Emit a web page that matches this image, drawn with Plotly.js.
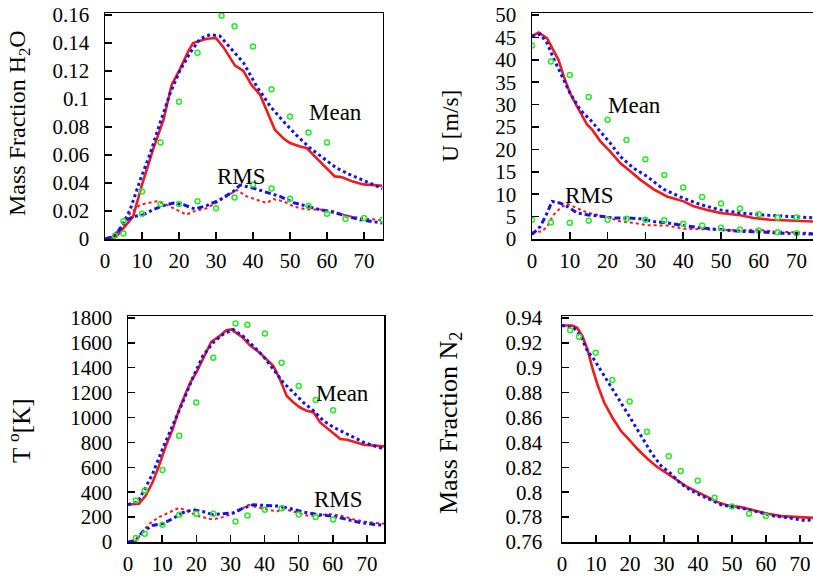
<!DOCTYPE html>
<html>
<head>
<meta charset="utf-8">
<script src="https://cdn.plot.ly/plotly-3.0.1.min.js"></script>
<style>
html,body{margin:0;padding:0;overflow:hidden;background:#fff;}
#chart{width:820px;height:579px;}
</style>
</head>
<body>
<div id="chart"></div>
<script>
// ---------- Panel 1: Mass fraction H2O ----------
const h2oMeanLesX = [0,3.2,7.6,9.9,13,15.8,18,20.2,22.5,23.8,27.5,30,32,35.1,37.4,39.6,41.9,43.7,45.9,48.2,50,52.7,54.5,56.7,59.4,62.1,63.9,67,69.8,75];
const h2oMeanLesY = [0,0.002,0.016,0.038,0.064,0.085,0.110,0.121,0.134,0.140,0.143,0.1435,0.137,0.124,0.120,0.110,0.103,0.092,0.078,0.072,0.0685,0.066,0.065,0.059,0.052,0.0447,0.0442,0.041,0.039,0.038];
const h2oMeanModX = [0,2.2,4.5,6.8,9.5,12.2,14.9,17.6,20.2,23,25.7,28.4,31,33.8,37.4,41,44.6,48.2,51.8,55.4,59,62.6,66.2,69.8,75];
const h2oMeanModY = [0,0.0014,0.009,0.021,0.042,0.061,0.083,0.104,0.120,0.133,0.143,0.146,0.145,0.137,0.126,0.109,0.095,0.084,0.074,0.065,0.058,0.0506,0.046,0.042,0.036];
const h2oMeanExpX = [2.7,5,10,15,20,25,31.5,35,40,45,50,55,60];
const h2oMeanExpY = [0.0024,0.004,0.034,0.069,0.098,0.133,0.1595,0.152,0.1375,0.107,0.0875,0.076,0.069];
const h2oRmsLesX = [0,2.2,5,6.8,9.5,12.2,14,16.6,19.4,22,23.9,27.5,30,32.9,35.6,38.3,41,43.7,45.5,48.2,50.9,54.5,58,61.7,65.3,68.9,75];
const h2oRmsLesY = [0,0.001,0.009,0.0185,0.0245,0.026,0.027,0.0245,0.021,0.0174,0.0197,0.022,0.0257,0.0304,0.035,0.0304,0.028,0.0257,0.0285,0.027,0.0233,0.021,0.021,0.020,0.0166,0.015,0.0133];
const h2oRmsModX = [0,2.2,4,5.9,7.7,10.4,13,15.8,18.5,21.2,24.3,27.5,31,34.7,36.5,40,43.7,47.3,50.9,54.5,58,61.7,65.3,68.9,75];
const h2oRmsModY = [0,0.0019,0.0067,0.0138,0.016,0.0174,0.021,0.0238,0.0257,0.0245,0.0214,0.0238,0.028,0.034,0.0385,0.0364,0.0333,0.0304,0.026,0.0233,0.021,0.019,0.0166,0.0138,0.0114];
const h2oRmsExpX = [5,10,15,20,25,30,35,40,45,50,55,60,65,70,75];
const h2oRmsExpY = [0.0126,0.018,0.025,0.025,0.027,0.022,0.0297,0.039,0.036,0.0288,0.0235,0.018,0.0145,0.015,0.0138];

// ---------- Panel 2: axial velocity U ----------
const uMeanLesX = [0,1.8,4,5.7,7,8.4,10.1,11.9,14.6,15.9,18.1,20.7,23.4,26,28.7,32.2,35.7,40.1,42.8,46.3,49.8,55.1,58.6,63,67.5,75];
const uMeanLesY = [45.3,46.1,44.8,42.2,40,36.3,32.5,29.6,25.5,24.4,21.8,19.5,16.9,15.1,13.2,11.1,9.5,8.4,7.3,6.5,5.8,5.3,4.7,4.3,4.2,3.9];
const uMeanModX = [0,2.2,4,5.7,10.1,12.8,15.4,18.1,20.7,23.4,26.9,30.4,34.8,40.1,44.5,49.8,55.1,60.4,65.7,75];
const uMeanModY = [45.3,45.7,43.7,40.3,32.5,28.8,26.6,24,21.4,18.4,15.8,14,11.1,9.1,7.7,6.5,5.8,5.4,5.1,4.7];
const uMeanExpX = [0,5,10,15,20,25,30,35,40,45,50,55,60,65,70];
const uMeanExpY = [43.2,39.6,36.6,31.7,26.6,22.1,17.8,14.3,11.5,9.4,7.9,6.8,5.5,4.8,4.8];
const uRmsLesX = [0,2.6,4,5.7,7.5,9.3,11.9,14.6,17.2,19.8,23.4,26.9,30.4,35.7,40.1,45.4,49.8,55.1,59.5,63.9,75];
const uRmsLesY = [1.5,1.7,2.8,5.4,6.9,7.9,6.9,5.9,5.4,4.9,3.9,3.6,3.1,3.0,2.3,2.1,2.1,1.9,2.1,1.7,1.3];
const uRmsModX = [0,2.2,4,5.3,7.5,9.7,11.9,14.6,18.1,21.6,25.1,28.7,32.2,35.7,40.1,44.5,49.8,55.1,60.4,65.7,75];
const uRmsModY = [1.0,2.8,5.8,8.4,8.0,7.1,5.8,5.4,5.1,4.7,4.7,4.5,3.9,3.6,3.0,2.5,2.1,1.7,1.6,1.3,1.1];
const uRmsExpX = [0,5,10,15,20,25,30,35,40,45,50,55,60,65,70];
const uRmsExpY = [4.3,3.7,3.6,4.1,4.3,4.5,4.3,4.2,3.4,3.0,2.5,2.1,1.9,1.5,1.3];

// ---------- Panel 3: temperature T ----------
const tMeanLesX = [0,3.2,5.2,7.2,9.1,11.1,13.1,15,17,18.5,20,21.4,22.9,24.4,26.8,28.8,30.3,31.8,33.7,35.7,38.6,40.6,42.6,44.5,46.5,48.5,50.4,52.4,54.4,56.3,59.3,62.2,64.2,67.2,69.1,75];
const tMeanLesY = [301,307,373,480,613,773,907,1067,1200,1293,1360,1440,1533,1608,1653,1701,1707,1680,1640,1579,1520,1467,1413,1307,1173,1120,1080,1053,1040,960,893,827,821,800,781,768];
const tMeanModX = [0,2.8,5.2,7.2,10.1,13.1,16,19,21.9,24.9,27.8,30.8,33.7,36.7,39.6,42.6,45.5,48.5,51.4,54.4,57.3,60.3,63.2,66.2,69.1,75];
const tMeanModY = [301,320,440,547,747,933,1120,1320,1493,1600,1667,1707,1653,1573,1493,1387,1280,1200,1120,1053,973,920,880,840,800,747];
const tMeanExpX = [2.3,4.9,10.1,15,20,25,31.5,35,40.1,45,50,55,60.1];
const tMeanExpY = [333,413,579,853,1120,1480,1755,1744,1675,1440,1253,1141,1059];
const tRmsLesX = [0,2.3,4.2,6.2,9.1,12.1,15,17,20,22.9,24.9,27.8,30.8,32.7,35.2,37.7,40.6,43.6,45.5,48.5,52.4,56.3,58.3,62.2,66.2,70.1,75];
const tRmsLesY = [0,5,80,147,200,240,275,253,213,192,181,200,227,253,299,280,261,245,267,245,213,208,227,213,181,160,147];
const tRmsModX = [0,2.3,4.2,7.2,10.1,13.1,16,19,21.9,24.9,27.8,30.8,33.7,36.7,40.6,44.5,48.5,52.4,56.3,60.3,64.2,68.1,75];
const tRmsModY = [0,13,80,133,147,187,235,259,245,219,227,235,272,299,293,288,261,235,219,205,181,155,133];
const tRmsExpX = [2.3,4.9,10.1,15,20,25,31.5,35,40.1,45,50,55,60.1];
const tRmsExpY = [32,67,139,219,227,227,165,213,259,272,221,200,181];

// ---------- Panel 4: Mass fraction N2 ----------
const n2MeanLesX = [0,3,4.5,6,7.5,8.9,10.4,12.4,14.8,17.3,19.8,22.2,25.2,28.1,31.1,34,37,39.9,42.9,45.8,48.8,52.7,56.6,60.6,64.5,68.4,75];
const n2MeanLesY = [0.9339,0.9339,0.932,0.9253,0.9147,0.900,0.8867,0.872,0.860,0.8493,0.8421,0.8347,0.8267,0.820,0.8147,0.8093,0.804,0.800,0.796,0.792,0.7893,0.788,0.7853,0.7827,0.7808,0.780,0.7792];
const n2MeanModX = [0,3.5,5.5,7.5,9.4,11.9,14.4,17.3,20.3,23.2,26.2,29.1,32.1,35,38,40.9,43.9,46.8,50.7,54.7,58.6,62.5,66.5,71.4,75];
const n2MeanModY = [0.9339,0.932,0.9253,0.9133,0.9067,0.896,0.8853,0.872,0.8587,0.8453,0.832,0.8213,0.8147,0.8067,0.8013,0.7973,0.7933,0.7899,0.788,0.7861,0.7835,0.7808,0.7795,0.7773,0.7781];
const n2MeanExpX = [2.4,5,9.9,14.8,19.9,25,31.4,34.9,39.9,44.9,50,55,60];
const n2MeanExpY = [0.9301,0.9248,0.912,0.8901,0.8728,0.8485,0.8288,0.8171,0.8091,0.7955,0.7885,0.7827,0.7808];

// ---------- styles ----------
const RED = '#ee1c1c', BLUE = '#1414e6', GREEN = '#2ee62e';
const FONT = 'Liberation Serif';

function lesMean(x, y, xa, ya){ return {x, y, xaxis:xa, yaxis:ya, type:'scatter', mode:'lines', line:{color:RED, width:2.6}, showlegend:false, hoverinfo:'skip'}; }
function modMean(x, y, xa, ya){ return {x, y, xaxis:xa, yaxis:ya, type:'scatter', mode:'lines', line:{color:BLUE, width:3, dash:'dot'}, showlegend:false, hoverinfo:'skip'}; }
function lesRms(x, y, xa, ya){ return {x, y, xaxis:xa, yaxis:ya, type:'scatter', mode:'lines', line:{color:RED, width:2, dash:'dot'}, showlegend:false, hoverinfo:'skip'}; }
function modRms(x, y, xa, ya){ return {x, y, xaxis:xa, yaxis:ya, type:'scatter', mode:'lines', line:{color:BLUE, width:3, dash:'6px,3px,3px,3px'}, showlegend:false, hoverinfo:'skip'}; }
function exp(x, y, xa, ya){ return {x, y, xaxis:xa, yaxis:ya, type:'scatter', mode:'markers', marker:{symbol:'circle-open', size:5, color:GREEN, line:{width:1.5, color:GREEN}}, showlegend:false, hoverinfo:'skip'}; }

const data = [
  lesMean(h2oMeanLesX, h2oMeanLesY, 'x', 'y'),
  modMean(h2oMeanModX, h2oMeanModY, 'x', 'y'),
  lesRms(h2oRmsLesX, h2oRmsLesY, 'x', 'y'),
  modRms(h2oRmsModX, h2oRmsModY, 'x', 'y'),
  exp(h2oMeanExpX, h2oMeanExpY, 'x', 'y'),
  exp(h2oRmsExpX, h2oRmsExpY, 'x', 'y'),

  lesMean(uMeanLesX, uMeanLesY, 'x2', 'y2'),
  modMean(uMeanModX, uMeanModY, 'x2', 'y2'),
  lesRms(uRmsLesX, uRmsLesY, 'x2', 'y2'),
  modRms(uRmsModX, uRmsModY, 'x2', 'y2'),
  exp(uMeanExpX, uMeanExpY, 'x2', 'y2'),
  exp(uRmsExpX, uRmsExpY, 'x2', 'y2'),

  lesMean(tMeanLesX, tMeanLesY, 'x3', 'y3'),
  modMean(tMeanModX, tMeanModY, 'x3', 'y3'),
  lesRms(tRmsLesX, tRmsLesY, 'x3', 'y3'),
  modRms(tRmsModX, tRmsModY, 'x3', 'y3'),
  exp(tMeanExpX, tMeanExpY, 'x3', 'y3'),
  exp(tRmsExpX, tRmsExpY, 'x3', 'y3'),

  lesMean(n2MeanLesX, n2MeanLesY, 'x4', 'y4'),
  modMean(n2MeanModX, n2MeanModY, 'x4', 'y4'),
  exp(n2MeanExpX, n2MeanExpY, 'x4', 'y4')
];

const W = 820, H = 579;
function ax(extra){
  return Object.assign({
    showline:true, linecolor:'#000', linewidth:1.5, mirror:true,
    ticks:'inside', ticklen:7, tickwidth:1.5, tickcolor:'#000',
    showgrid:false, zeroline:false,
    tickfont:{family:FONT, size:21, color:'#000'}
  }, extra);
}
const xt = {range:[0,75], dtick:10, tick0:0, ticklabelstandoff:2};
const dx = (a,b)=>[a/W, b/W];
const dy = (top,bot)=>[(H-bot)/H, (H-top)/H];

const ann = (text, xref, yref, x, y, size) => ({text, xref, yref, x, y, showarrow:false, font:{family:FONT, size:size||23, color:'#000'}, xanchor:'center', yanchor:'middle'});
const ytitle = (text, px, py, size) => ({text, xref:'paper', yref:'paper', x:px/W, y:1-py/H, showarrow:false, textangle:-90, font:{family:FONT, size:size, color:'#000'}, xanchor:'center', yanchor:'middle'});

const layout = {
  width:W, height:H,
  margin:{l:0, r:0, t:0, b:0},
  font:{family:FONT, size:21, color:'#000'},
  paper_bgcolor:'#fff', plot_bgcolor:'#fff',
  showlegend:false,
  xaxis:  ax(Object.assign({domain:dx(105,382.5), anchor:'y'}, xt)),
  yaxis:  ax({domain:dy(13,239), anchor:'x', range:[0,0.1614], dtick:0.02, ticklabelstandoff:10}),
  xaxis2: ax(Object.assign({domain:dx(532,815.5), anchor:'y2'}, xt)),
  yaxis2: ax({domain:dy(13,239), anchor:'x2', range:[0,50.45], dtick:5, ticklabelstandoff:10}),
  xaxis3: ax(Object.assign({domain:dx(128,384), anchor:'y3'}, xt)),
  yaxis3: ax({domain:dy(316,542), anchor:'x3', range:[0,1815], dtick:200, ticklabelstandoff:10}),
  xaxis4: ax(Object.assign({domain:dx(562,817), anchor:'y4'}, xt)),
  yaxis4: ax({domain:dy(316,542), anchor:'x4', range:[0.76,0.9415], dtick:0.02, ticklabelstandoff:14}),
  annotations:[
    ann('Mean','x','y',62.4,0.0907),
    ann('RMS','x','y',37,0.0443),
    ann('Mean','x2','y2',27.2,29.9),
    ann('RMS','x2','y2',15.1,9.8),
    ann('Mean','x3','y3',62.7,1190),
    ann('RMS','x3','y3',61.8,342),
    ytitle('Mass Fraction H<sub>2</sub>O', 19, 123, 24),
    ytitle('U [m/s]', 450, 126, 23.5),
    ytitle('T <sup>o</sup>[K]', 19, 431, 25),
    ytitle('Mass Fraction N<sub>2</sub>', 450, 423, 26)
  ]
};

Plotly.newPlot('chart', data, layout, {staticPlot:true, displayModeBar:false});
</script>
</body>
</html>
